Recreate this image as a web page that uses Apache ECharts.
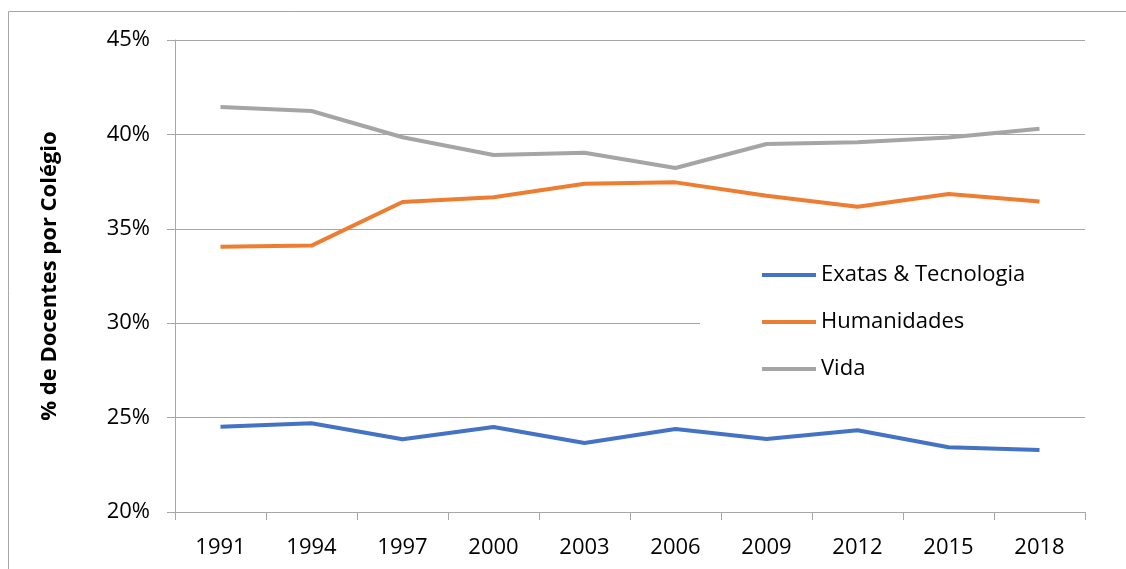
<!DOCTYPE html>
<html>
<head>
<meta charset="utf-8">
<script src="https://cdn.jsdelivr.net/npm/echarts@6/dist/echarts.min.js"></script>
<style>
  body { margin: 0; background: #fff; }
  #chart { width: 1126px; height: 569px; }
</style>
</head>
<body>
<div id="chart"></div>
<script>
var years = ['1991', '1994', '1997', '2000', '2003', '2006', '2009', '2012', '2015', '2018']
var exatas = [24.52, 24.70, 23.85, 24.50, 23.65, 24.40, 23.87, 24.33, 23.43, 23.28]
var humanidades = [34.05, 34.11, 36.42, 36.67, 37.39, 37.46, 36.75, 36.17, 36.84, 36.44]
var vida = [41.45, 41.24, 39.85, 38.91, 39.03, 38.22, 39.49, 39.58, 39.83, 40.30]
var seriesNames = ['Exatas & Tecnologia', 'Humanidades', 'Vida']

var font = 'Open Sans'
var gray = '#a6a6a6'

function make_line(name, values, color) {
    return {
        name: name,
        type: 'line',
        data: values,
        symbol: 'none',
        lineStyle: { width: 4, color: color },
        itemStyle: { color: color }
    }
}

var option = {
    animation: false,
    color: ['#4472C4', '#ED7D31', '#A5A5A5'],
    graphic: [{
        type: 'rect',
        z: -10,
        shape: { x: 8.5, y: 11.5, width: 1200, height: 600 },
        style: { fill: 'none', stroke: gray, lineWidth: 1 }
    }],
    grid: { left: 175, right: 41, top: 40, bottom: 57 },
    legend: {
        orient: 'vertical',
        left: 700,
        top: 252,
        padding: [10, 80, 10, 62],
        backgroundColor: '#fff',
        icon: 'rect',
        itemWidth: 54,
        itemHeight: 4,
        itemGap: 21,
        textStyle: { fontFamily: font, fontSize: 22, color: '#000', lineHeight: 26 },
        data: seriesNames
    },
    xAxis: {
        type: 'category',
        data: years,
        boundaryGap: true,
        axisLine: { lineStyle: { color: gray } },
        axisTick: { show: true, length: 8, lineStyle: { color: gray } },
        axisLabel: { fontFamily: font, fontSize: 22, color: '#000', margin: 25, interval: 0 }
    },
    yAxis: {
        type: 'value',
        min: 20,
        max: 45,
        interval: 5,
        name: '% de Docentes por Colégio',
        nameLocation: 'middle',
        nameGap: 114,
        nameTextStyle: { fontFamily: font, fontSize: 22, fontWeight: 'bold', color: '#000' },
        axisLine: { show: true, lineStyle: { color: gray } },
        axisTick: { show: true, length: 8, lineStyle: { color: gray } },
        axisLabel: { fontFamily: font, fontSize: 22, color: '#000', margin: 25, formatter: '{value}%' },
        splitLine: { lineStyle: { color: gray, width: 1 } }
    },
    series: [
        make_line(seriesNames[0], exatas, '#4472C4'),
        make_line(seriesNames[1], humanidades, '#ED7D31'),
        make_line(seriesNames[2], vida, '#A5A5A5')
    ]
}

var chart = echarts.init(document.getElementById('chart'))
chart.setOption(option)
</script>
</body>
</html>
